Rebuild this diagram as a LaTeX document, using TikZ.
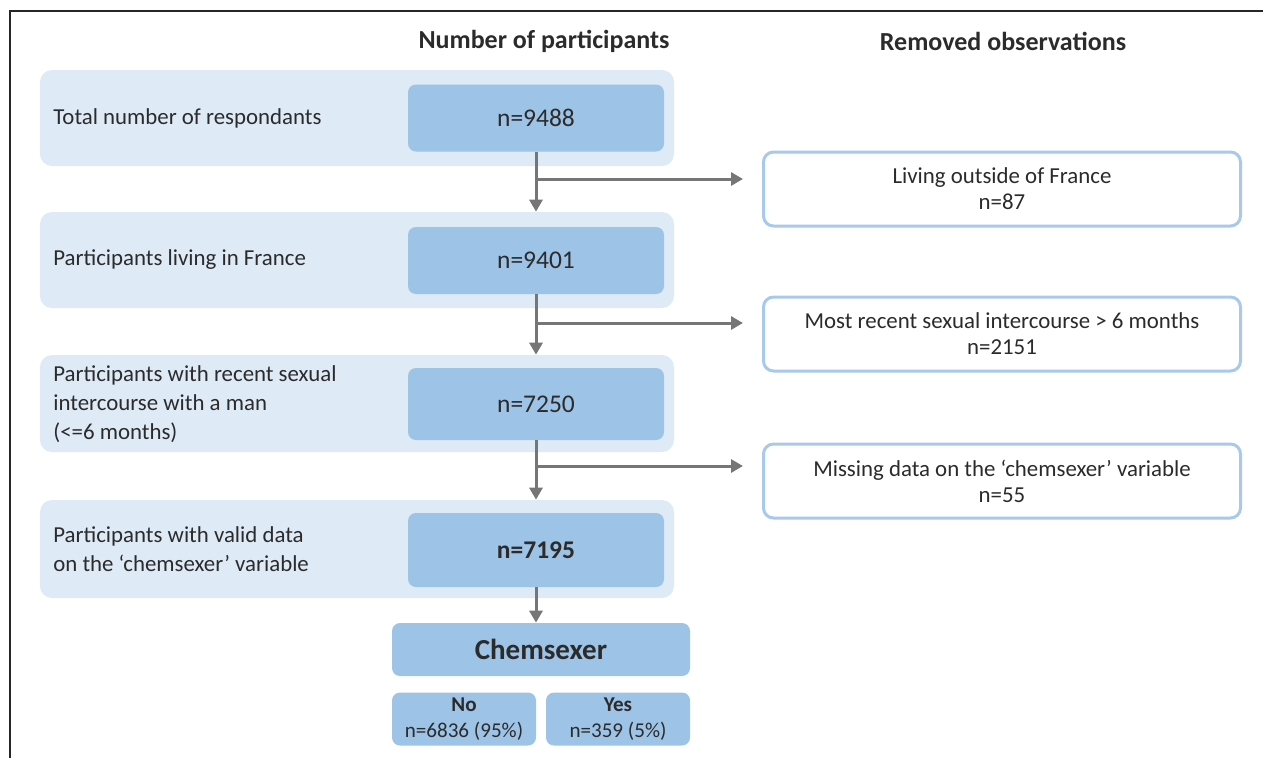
\documentclass[tikz,border=0pt]{standalone}
\usepackage{fontspec}
\setmainfont{Carlito}
\usetikzlibrary{arrows.meta}
\definecolor{outerbg}{HTML}{DEEAF6}
\definecolor{innerbg}{HTML}{9DC3E6}
\definecolor{rbord}{HTML}{A9C9EA}
\definecolor{txt}{HTML}{2B2B2B}
\definecolor{arrc}{HTML}{767676}
\begin{document}
\begin{tikzpicture}[x=0.2mm,y=-0.2mm,
  every node/.style={text=txt, font=\fontsize{13}{16.5}\selectfont, inner sep=0pt},
  outerbox/.style={fill=outerbg, rounded corners=2.4mm, minimum width=126.8mm, minimum height=19.2mm},
  innerbox/.style={fill=innerbg, rounded corners=1.6mm, minimum width=51.2mm, minimum height=13.4mm, font=\fontsize{14.5}{17}\selectfont},
  lefttext/.style={anchor=west, align=left},
  removedbox/.style={draw=rbord, line width=0.6mm, fill=white, rounded corners=2mm, minimum width=95.4mm, minimum height=14.8mm, align=center, font=\fontsize{13}{14.8}\selectfont},
  resbox/.style={fill=innerbg, rounded corners=1.6mm, minimum width=28.8mm, minimum height=10.6mm, align=center, font=\fontsize{12}{14.8}\selectfont},
  header/.style={font=\fontsize{14.8}{17}\selectfont\bfseries},
  arr/.style={draw=arrc, line width=0.6mm, -{Triangle[length=2.4mm,width=2.6mm]}}
]
\useasboundingbox (0,0) rectangle (1263,758);
% frame
\draw[line width=0.45mm, black!85] (10,758) -- (10,11) -- (1263,11);

% headers
\node[header] (h1) at (544,41) {Number of participants};
\node[header] (h2) at (1003,41) {Removed observations};

% outer boxes
\node[outerbox] (o1) at (357,118) {};
\node[outerbox] (o2) at (357,260) {};
\node[outerbox, minimum height=19.4mm] (o3) at (357,403.5) {};
\node[outerbox, minimum height=19.6mm] (o4) at (357,549) {};

% inner boxes
\node[innerbox] (n1) at (536,118) {n=9488};
\node[innerbox] (n2) at (536,260.5) {n=9401};
\node[innerbox, minimum height=14.4mm] (n3) at (536,404) {n=7250};
\node[innerbox, minimum height=14.8mm] (n4) at (536,550) {\bfseries n=7195};

% left texts
\node[lefttext] (t1) at (53,118) {Total number of respondants};
\node[lefttext] (t2) at (53,260) {Participants living in France};
\node[lefttext] (t3) at (53,404) {Participants with recent sexual\\intercourse with a man\\(<=6 months)};
\node[lefttext] (t4) at (53,549) {Participants with valid data\\on the `chemsexer' variable};

% removed boxes
\node[removedbox] (r1) at (1002,189) {Living outside of France\\n=87};
\node[removedbox] (r2) at (1002,334) {Most recent sexual intercourse > 6 months\\n=2151};
\node[removedbox] (r3) at (1002,481) {Missing data on the `chemsexer' variable\\n=55};

% result boxes
\node[fill=innerbg, rounded corners=1.6mm, minimum width=59.6mm, minimum height=10.6mm, font=\fontsize{16.5}{18}\selectfont\bfseries] (ch) at (541,649.5) {Chemsexer};
\node[resbox] (no) at (464,719) {\textbf{No}\\n=6836 (95\%)};
\node[resbox] (yes) at (618,719) {\textbf{Yes}\\n=359 (5\%)};

% branch coordinates
\coordinate (b1) at (537,179);
\coordinate (e1) at (743,179);
\coordinate (b2) at (537,323);
\coordinate (e2) at (743,323);
\coordinate (b3) at (537,466);
\coordinate (e3) at (743,466);

% connectors
\draw[arr] (n1.south) -- (n1.south |- o2.north);
\draw[arr] (b1) -- (e1);
\draw[arr] (n2.south) -- (n2.south |- o3.north);
\draw[arr] (b2) -- (e2);
\draw[arr] (n3.south) -- (n3.south |- o4.north);
\draw[arr] (b3) -- (e3);
\draw[arr] (n4.south) -- (n4.south |- ch.north);
\end{tikzpicture}
\end{document}
